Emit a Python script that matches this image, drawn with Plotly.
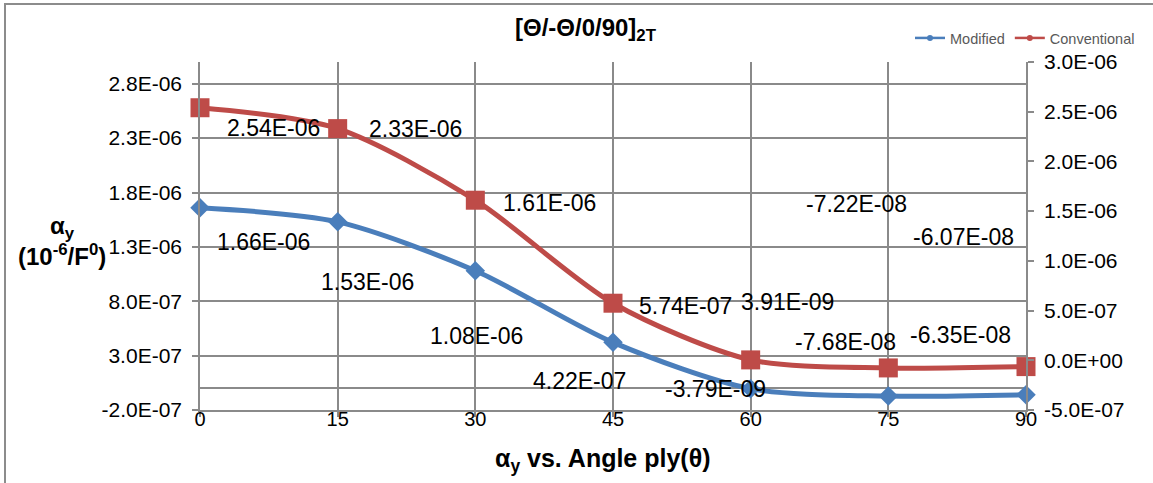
import plotly.graph_objects as go

# Ply angle theta (degrees)
angles = [0, 15, 30, 45, 60, 75, 90]

# Coefficient alpha_y for the two formulations
modified = [1.66e-06, 1.53e-06, 1.08e-06, 4.22e-07, -3.79e-09, -7.22e-08, -6.07e-08]
conventional = [2.54e-06, 2.33e-06, 1.61e-06, 5.74e-07, 3.91e-09, -7.68e-08, -6.35e-08]

# Axis tick values
left_ticks = [-2.0e-07, 3.0e-07, 8.0e-07, 1.3e-06, 1.8e-06, 2.3e-06, 2.8e-06]
right_ticks = [-5.0e-07, 0.0, 5.0e-07, 1.0e-06, 1.5e-06, 2.0e-06, 2.5e-06, 3.0e-06]
x_ticks = [0, 15, 30, 45, 60, 75, 90]


def sci(v, digits):
    return f"{v:.{digits}E}"


# Canvas / plot area geometry (pixels)
W, H = 1153, 483
PL, PR, PT, PB = 200, 1026, 62, 410

BLUE = "#4A7EBB"
RED = "#BE4B48"
GRID = "#8a8a8a"
FONT = "Liberation Sans, Arial, sans-serif"


def px_x(px):
    return (px - PL) / (PR - PL)


def px_y(py):
    return (PB - py) / (PB - PT)


fig = go.Figure()

fig.add_trace(go.Scatter(
    x=angles, y=modified, name="Modified", yaxis="y",
    mode="lines+markers", line=dict(color=BLUE, width=5, shape="spline", smoothing=0.8),
    marker=dict(symbol="diamond", size=15, color=BLUE),
    cliponaxis=False, showlegend=False,
))
fig.add_trace(go.Scatter(
    x=angles, y=conventional, name="Conventional", yaxis="y2",
    mode="lines+markers", line=dict(color=RED, width=5, shape="spline", smoothing=0.8),
    marker=dict(symbol="square", size=19, color=RED),
    cliponaxis=False, showlegend=False,
))

# Legend entries with small round markers
for name, col in (("Modified", BLUE), ("Conventional", RED)):
    fig.add_trace(go.Scatter(
        x=[None], y=[None], name=name, mode="lines+markers",
        line=dict(color=col, width=2.5), marker=dict(symbol="circle", size=6, color=col),
    ))

# Data label offsets (pixels) for each point
mod_shift = [(63, -34), (30, -60), (1, -65), (-34, -39), (-35, 0), (-32, 192), (-63, 158)]
con_shift = [(73, -20), (78, 0), (74, -3), (72, -3), (37, 58), (-43, 26), (-66, 32)]

annotations = []
for xs, vals, shifts, yref in ((angles, modified, mod_shift, "y"),
                               (angles, conventional, con_shift, "y2")):
    for x, v, (dx, dy) in zip(xs, vals, shifts):
        annotations.append(dict(
            x=x, y=v, xref="x", yref=yref, text=sci(v, 2), showarrow=False,
            xshift=dx, yshift=dy, font=dict(family=FONT, size=23, color="black"),
        ))

# Chart title
annotations.append(dict(
    x=px_x(586), y=px_y(30), xref="paper", yref="paper", xanchor="center", yanchor="middle",
    text="<b>[Θ/-Θ/0/90]<sub>2T</sub></b>", showarrow=False,
    font=dict(family=FONT, size=24, color="black"),
))
# Axis titles
annotations.append(dict(
    x=px_x(62), y=px_y(241), xref="paper", yref="paper", xanchor="center", yanchor="middle",
    text="<b>α<sub>y</sub><br>(10<sup>-6</sup>/F<sup>0</sup>)</b>", showarrow=False,
    font=dict(family=FONT, size=24, color="black"),
))
annotations.append(dict(
    x=px_x(603), y=px_y(460), xref="paper", yref="paper", xanchor="center", yanchor="middle",
    text="<b>α<sub>y</sub> vs. Angle ply(θ)</b>", showarrow=False,
    font=dict(family=FONT, size=25, color="black"),
))

# Outer chart border
shapes = [dict(
    type="rect", xref="paper", yref="paper",
    x0=px_x(5), x1=px_x(1160), y0=px_y(490), y1=px_y(4),
    line=dict(color="#8c8c8c", width=2), fillcolor="rgba(0,0,0,0)", layer="below",
)]

fig.update_layout(
    width=W, height=H,
    margin=dict(l=PL, r=W - PR, t=PT, b=H - PB, pad=0),
    paper_bgcolor="white", plot_bgcolor="white",
    font=dict(family=FONT, size=20, color="black"),
    showlegend=True,
    legend=dict(
        orientation="h", x=px_x(1140), y=px_y(38), xanchor="right", yanchor="middle",
        font=dict(family=FONT, size=14.5, color="#595959"),
        bgcolor="rgba(0,0,0,0)", itemwidth=30, tracegroupgap=0,
    ),
    xaxis=dict(
        range=[0, 90], tickvals=x_ticks, ticktext=[str(t) for t in x_ticks],
        showgrid=True, gridcolor=GRID, gridwidth=1.6,
        ticks="outside", ticklen=5, tickcolor=GRID, tickwidth=1.6,
        showline=True, linecolor=GRID, linewidth=1.6,
        zeroline=False, tickfont=dict(size=20), ticklabelstandoff=-15,
    ),
    yaxis=dict(
        range=[-2.0e-07, 3.0e-06], tickvals=left_ticks,
        ticktext=[sci(t, 1) for t in left_ticks],
        showgrid=True, gridcolor=GRID, gridwidth=1.6,
        ticks="outside", ticklen=6, tickcolor=GRID, tickwidth=1.6,
        showline=True, linecolor=GRID, linewidth=1.6,
        zeroline=True, zerolinecolor=GRID, zerolinewidth=1.6,
        tickfont=dict(size=21), ticklabelstandoff=6,
    ),
    yaxis2=dict(
        range=[-5.0e-07, 3.0e-06], tickvals=right_ticks,
        ticktext=[sci(t, 1) for t in right_ticks],
        overlaying="y", side="right", showgrid=False, zeroline=False,
        ticks="outside", ticklen=6, tickcolor=GRID, tickwidth=1.6,
        showline=True, linecolor=GRID, linewidth=1.6,
        tickfont=dict(size=21), ticklabelstandoff=6,
    ),
    annotations=annotations, shapes=shapes,
)

fig.write_html("out.html")
